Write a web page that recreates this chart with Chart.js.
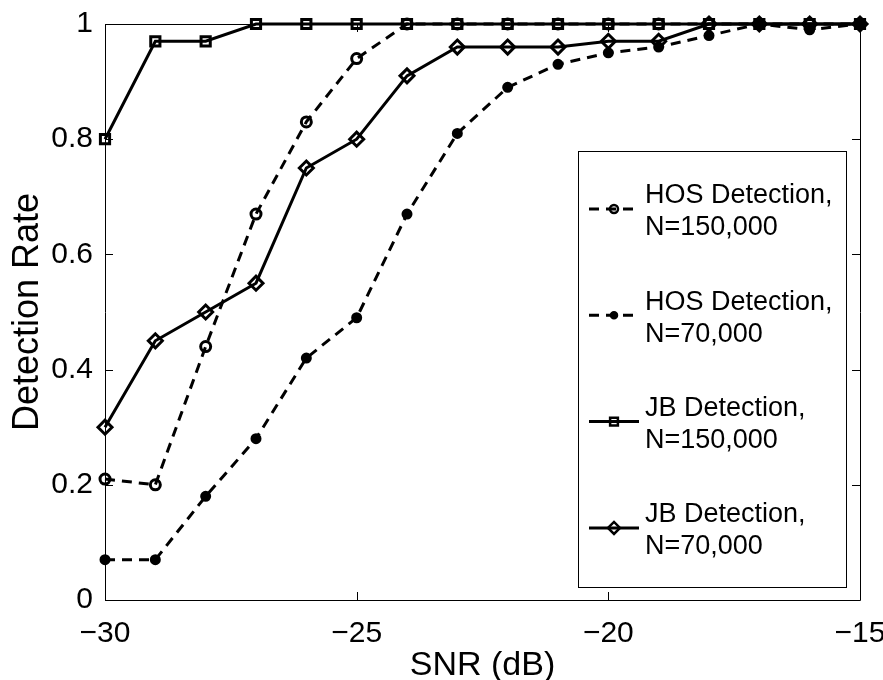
<!DOCTYPE html>
<html>
<head>
<meta charset="utf-8">
<script src="https://cdn.jsdelivr.net/npm/chart.js@4/dist/chart.umd.min.js"></script>
<style>
  html, body { margin: 0; padding: 0; background: #fff; }
  #wrap { width: 883px; height: 680px; }
</style>
</head>
<body>
<div id="wrap"><canvas id="detection-chart" width="883" height="680"></canvas></div>
<script>
// SNR values (dB) on the x axis
var snr = [-30, -29, -28, -27, -26, -25, -24, -23, -22, -21, -20, -19, -18, -17, -16, -15];

// detection rates
var hos150 = [0.21, 0.20, 0.44, 0.67, 0.83, 0.94, 1, 1, 1, 1, 1, 1, 1, 1, 1, 1];
var hos70 = [0.07, 0.07, 0.18, 0.28, 0.42, 0.49, 0.67, 0.81, 0.89, 0.93, 0.95, 0.96, 0.98, 1, 0.99, 1];
var jb150 = [0.80, 0.97, 0.97, 1, 1, 1, 1, 1, 1, 1, 1, 1, 1, 1, 1, 1];
var jb70 = [0.30, 0.45, 0.50, 0.55, 0.75, 0.80, 0.91, 0.96, 0.96, 0.96, 0.97, 0.97, 1, 1, 1, 1];

var seriesLabels = [
    ['HOS Detection,', 'N=150,000'],
    ['HOS Detection,', 'N=70,000'],
    ['JB Detection,', 'N=150,000'],
    ['JB Detection,', 'N=70,000']
];

var xTicks = [-30, -25, -20, -15];
var yTicks = [0, 0.2, 0.4, 0.6, 0.8, 1];

var FONT = '"Liberation Sans", Arial, Helvetica, sans-serif';

function points(values) {
    return snr.map(function(x, i) { return {x: x, y: values[i]}; });
}

function fmtY(v) {
    if (Math.abs(v) < 1e-9) return '0';
    if (Math.abs(v - 1) < 1e-9) return '1';
    return v.toFixed(1);
}

function fmtX(v) {
    return v < 0 ? '\u2212' + Math.abs(v) : String(v);
}

// box round the axes with inward ticks, like a MATLAB plot
var boxPlugin = {
    id: 'matlabBox',
    afterDatasetsDraw: function(chart) {
        var ctx = chart.ctx;
        var a = chart.chartArea;
        var xs = chart.scales.x, ys = chart.scales.y;
        var len = 8;
        ctx.save();
        ctx.strokeStyle = '#000';
        ctx.lineWidth = 1;
        ctx.beginPath();
        ctx.rect(Math.round(a.left) + 0.5, Math.round(a.top) + 0.5,
                 Math.round(a.right - a.left), Math.round(a.bottom - a.top));
        xTicks.forEach(function(t) {
            var px = Math.round(xs.getPixelForValue(t)) + 0.5;
            ctx.moveTo(px, a.bottom); ctx.lineTo(px, a.bottom - len);
            ctx.moveTo(px, a.top); ctx.lineTo(px, a.top + len);
        });
        yTicks.forEach(function(t) {
            var py = Math.round(ys.getPixelForValue(t)) + 0.5;
            ctx.moveTo(a.left, py); ctx.lineTo(a.left + len, py);
            ctx.moveTo(a.right, py); ctx.lineTo(a.right - len, py);
        });
        ctx.stroke();
        ctx.restore();
    }
};

// boxed legend inside the plot, two text lines per entry
var legendPlugin = {
    id: 'boxLegend',
    afterDraw: function(chart) {
        var ctx = chart.ctx;
        var a = chart.chartArea;
        var left = a.right - 282, top = a.top + 127, w = 268, h = 436;
        ctx.save();
        ctx.fillStyle = '#fff';
        ctx.fillRect(left, top, w, h);
        ctx.strokeStyle = '#000';
        ctx.lineWidth = 1;
        ctx.strokeRect(left + 0.5, top + 0.5, w, h);

        chart.data.datasets.forEach(function(ds, i) {
            var cy = top + 58 + i * 106.3;
            ctx.save();
            ctx.strokeStyle = '#000';
            ctx.lineWidth = ds.borderWidth;
            ctx.setLineDash(ds.borderDash || []);
            ctx.beginPath();
            ctx.moveTo(left + 11, cy);
            ctx.lineTo(left + 61, cy);
            ctx.stroke();
            ctx.restore();

            ctx.save();
            ctx.setLineDash([]);
            ctx.fillStyle = ds.pointBackgroundColor;
            ctx.strokeStyle = '#000';
            ctx.lineWidth = 2.5;
            Chart.helpers.drawPoint(ctx, {
                pointStyle: ds.pointStyle,
                radius: ds.pointRadius - 1,
                borderWidth: 2.5
            }, left + 36, cy);
            ctx.restore();

            ctx.fillStyle = '#000';
            ctx.font = '27px ' + FONT;
            ctx.textBaseline = 'middle';
            ctx.textAlign = 'left';
            ctx.fillText(seriesLabels[i][0], left + 67, cy - 13);
            ctx.fillText(seriesLabels[i][1], left + 67, cy + 19);
        });
        ctx.restore();
    }
};

function lineSet(values, dashed, style, radius, fill) {
    return {
        data: points(values),
        borderColor: '#000',
        borderWidth: 3,
        borderDash: dashed ? [10, 7] : [],
        pointStyle: style,
        pointRadius: radius,
        pointBorderWidth: 3,
        pointBorderColor: '#000',
        pointBackgroundColor: fill,
        tension: 0,
        clip: false
    };
}

var ctx = document.getElementById('detection-chart');

new Chart(ctx, {
    type: 'line',
    data: {
        datasets: [
            lineSet(hos150, true, 'circle', 5, 'rgba(0,0,0,0)'),
            lineSet(hos70, true, 'circle', 4, '#000'),
            lineSet(jb150, false, 'rect', 6.5, 'rgba(0,0,0,0)'),
            lineSet(jb70, false, 'rectRot', 7, 'rgba(0,0,0,0)')
        ]
    },
    options: {
        responsive: false,
        animation: false,
        devicePixelRatio: 1,
        layout: { padding: { top: 24, right: 23, left: 0, bottom: 0 } },
        plugins: {
            legend: { display: false },
            tooltip: { enabled: false }
        },
        scales: {
            x: {
                type: 'linear',
                min: -30,
                max: -15,
                grid: { display: false, drawTicks: false },
                border: { display: false },
                afterBuildTicks: function(scale) {
                    scale.ticks = xTicks.map(function(v) { return {value: v}; });
                },
                afterFit: function(scale) {
                    scale.height = 80;
                    scale.paddingLeft = 0;
                    scale.paddingRight = 0;
                },
                ticks: {
                    color: '#000',
                    padding: 16,
                    maxRotation: 0,
                    autoSkip: false,
                    font: { family: FONT, size: 30 },
                    callback: function(v) { return fmtX(v); }
                },
                title: {
                    display: true,
                    text: 'SNR (dB)',
                    color: '#000',
                    padding: { top: 0, bottom: -3 },
                    font: { family: FONT, size: 34, lineHeight: 1.0 }
                }
            },
            y: {
                min: 0,
                max: 1,
                grid: { display: false, drawTicks: false },
                border: { display: false },
                afterBuildTicks: function(scale) {
                    scale.ticks = yTicks.map(function(v) { return {value: v}; });
                },
                afterFit: function(scale) {
                    scale.width = 105;
                    scale.paddingTop = 0;
                    scale.paddingBottom = 0;
                },
                ticks: {
                    color: '#000',
                    padding: 12,
                    autoSkip: false,
                    font: { family: FONT, size: 30 },
                    callback: function(v) { return fmtY(v); }
                },
                title: {
                    display: true,
                    text: 'Detection Rate',
                    color: '#000',
                    padding: { top: 6, bottom: 0 },
                    font: { family: FONT, size: 36 }
                }
            }
        }
    },
    plugins: [boxPlugin, legendPlugin]
});
</script>
</body>
</html>
